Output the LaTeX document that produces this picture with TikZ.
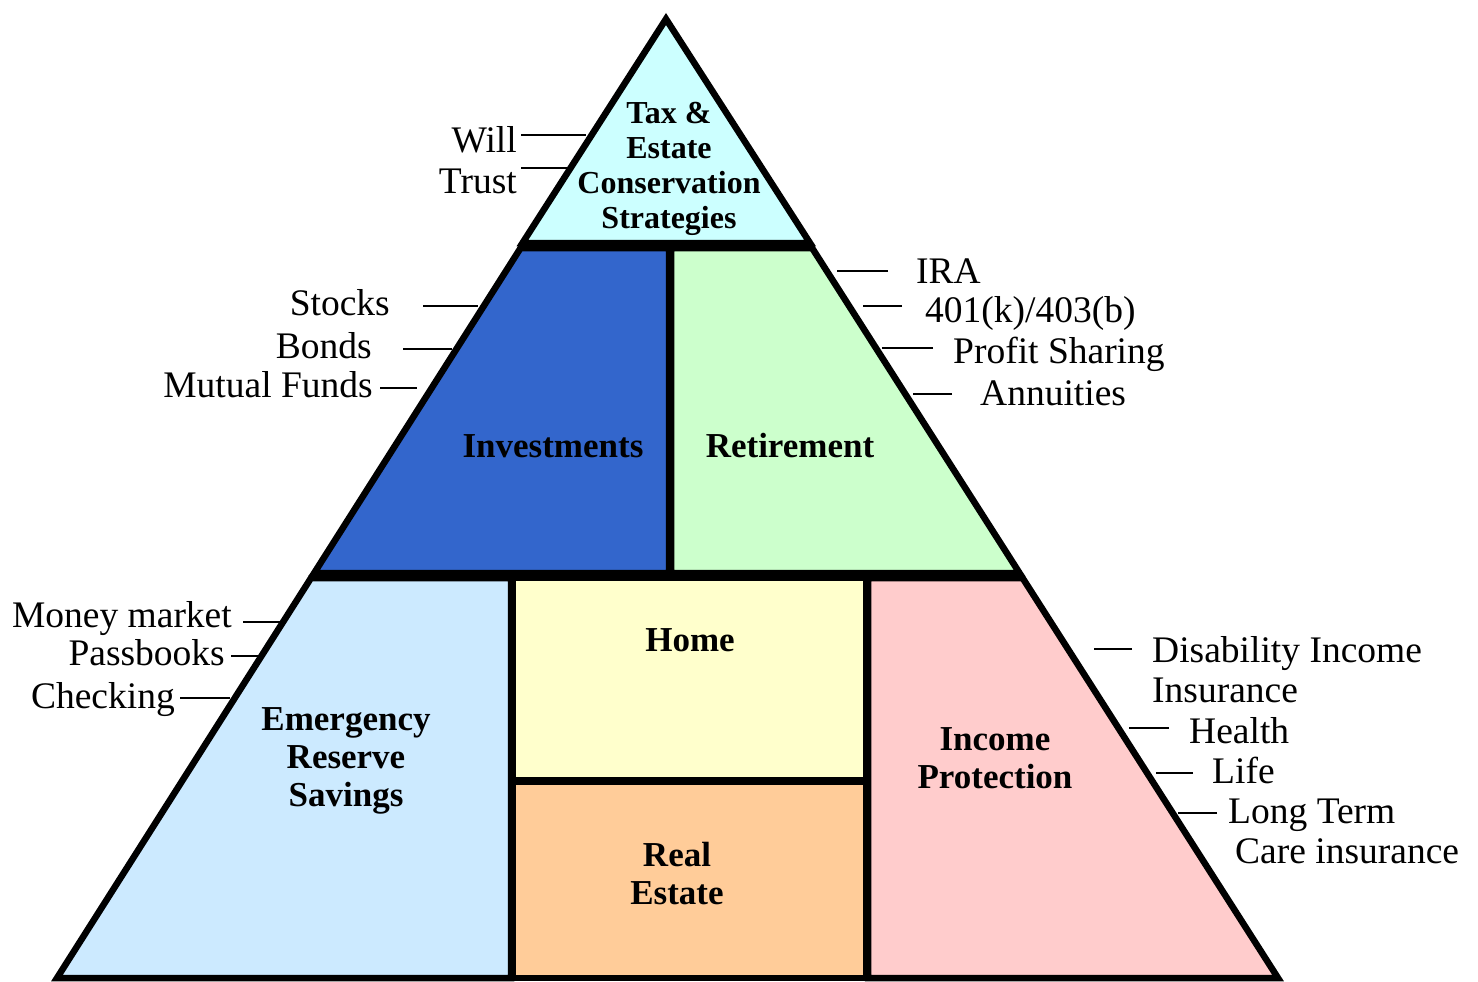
\documentclass[tikz,border=0pt]{standalone}
\usepackage{fontspec}
\setmainfont{Liberation Serif}
\usepackage{tikz}
\usetikzlibrary{positioning}
\definecolor{taxcyan}{HTML}{CCFFFF}
\definecolor{investblue}{HTML}{3366CC}
\definecolor{retiregreen}{HTML}{CCFFCC}
\definecolor{reserveblue}{HTML}{CCEAFF}
\definecolor{homeyellow}{HTML}{FFFFCC}
\definecolor{estateorange}{HTML}{FFCC99}
\definecolor{incomepink}{HTML}{FFCCCC}
\tikzstyle{region} = [draw=black, line width=6.5pt, line join=miter]
\tikzstyle{title} = [inner sep=0pt, align=center, font=\bfseries\fontsize{35}{38}\selectfont]
\tikzstyle{itemtext} = [inner sep=0pt, font=\fontsize{37.5}{40}\selectfont]
\tikzstyle{leader} = [line width=1.8pt]

\begin{document}
\begin{tikzpicture}[x=1pt, y=-1pt]
        \useasboundingbox (0,0) rectangle (1478,982);

        \coordinate (apex) at (666,19);
        \coordinate (bl) at (57,978);
        \coordinate (br) at (1278,978);

        % pyramid tiers
        \filldraw [region, fill=taxcyan] (apex) -- (810,243) -- (522.5,243) -- cycle;
        \filldraw [region, fill=investblue] (520.6,248) -- (669,248) -- (669,573) -- (314.2,573) -- cycle;
        \filldraw [region, fill=retiregreen] (671,248) -- (812.1,248) -- (1019.5,573) -- (671,573) -- cycle;
        \filldraw [region, fill=reserveblue] (311,578) -- (511,578) -- (511,978) -- (bl) -- cycle;
        \filldraw [region, fill=homeyellow] (513,578) rectangle (866,780);
        \filldraw [region, fill=estateorange] (513,782) rectangle (866,978);
        \filldraw [region, fill=incomepink] (868,578) -- (1022.6,578) -- (br) -- (868,978) -- cycle;

        \node (tax) [title, font=\bfseries\fontsize{32}{35}\selectfont] at (669,169) {Tax \&\\Estate\\Conservation\\Strategies};
        \node (invest) [title] at (553,446) {Investments};
        \node (retire) [title] at (790,446) {Retirement};
        \node (reserve) [title] at (346,761) {Emergency\\Reserve\\Savings};
        \node (home) [title] at (690,640) {Home};
        \node (estate) [title] at (677,874) {Real\\Estate};
        \node (income) [title] at (995,758) {Income\\Protection};

        % left side items
        \node (will) [itemtext, anchor=base east] at (517,152) {Will};
        \node (trust) [itemtext, anchor=base east] at (517,193) {Trust};
        \node (stocks) [itemtext, anchor=base east] at (390,315) {Stocks};
        \node (bonds) [itemtext, anchor=base east] at (372,358) {Bonds};
        \node (funds) [itemtext, anchor=base east] at (373,397) {Mutual Funds};
        \node (money) [itemtext, anchor=base east] at (232,627) {Money market};
        \node (pass) [itemtext, anchor=base east] at (225,665) {Passbooks};
        \node (check) [itemtext, anchor=base east] at (175,708) {Checking};

        % right side items (two-line texts sit on their last baseline)
        \node (ira) [itemtext, anchor=base west] at (916,283) {IRA};
        \node (plan) [itemtext, anchor=base west] at (925,322) {401(k)/403(b)};
        \node (profit) [itemtext, anchor=base west] at (953,363) {Profit Sharing};
        \node (annu) [itemtext, anchor=base west] at (980,405) {Annuities};
        \node (dis) [itemtext, anchor=base west, align=left] at (1152,702) {Disability Income\\Insurance};
        \node (health) [itemtext, anchor=base west] at (1189,743) {Health};
        \node (life) [itemtext, anchor=base west] at (1212,783) {Life};
        \node (care) [itemtext, anchor=base west, align=left] at (1228,863) {Long Term\\\hspace*{7pt}Care insurance};

        \coordinate (will-e) at (586,135);
        \coordinate (trust-e) at (567,168);
        \coordinate (stocks-e) at (478,306);
        \coordinate (bonds-e) at (452,349);
        \coordinate (funds-e) at (417,388);
        \coordinate (money-e) at (280,622);
        \coordinate (pass-e) at (258,656);
        \coordinate (check-e) at (230,698);
        \coordinate (ira-e) at (837,271);
        \coordinate (plan-e) at (863,306);
        \coordinate (profit-e) at (882,348);
        \coordinate (annu-e) at (913,394);
        \coordinate (dis-e) at (1094,649);
        \coordinate (health-e) at (1129,728);
        \coordinate (life-e) at (1156,773);
        \coordinate (care-e) at (1178,813);

        \draw [leader] ([xshift=4pt]will.east |- will-e) -- (will-e);
        \draw [leader] ([xshift=4pt]trust.east |- trust-e) -- (trust-e);
        \draw [leader] ([xshift=33pt]stocks.east |- stocks-e) -- (stocks-e);
        \draw [leader] ([xshift=31pt]bonds.east |- bonds-e) -- (bonds-e);
        \draw [leader] ([xshift=7pt]funds.east |- funds-e) -- (funds-e);
        \draw [leader] ([xshift=11pt]money.east |- money-e) -- (money-e);
        \draw [leader] ([xshift=6pt]pass.east |- pass-e) -- (pass-e);
        \draw [leader] ([xshift=5pt]check.east |- check-e) -- (check-e);
        \draw [leader] ([xshift=-28pt]ira.west |- ira-e) -- (ira-e);
        \draw [leader] ([xshift=-23pt]plan.west |- plan-e) -- (plan-e);
        \draw [leader] ([xshift=-20pt]profit.west |- profit-e) -- (profit-e);
        \draw [leader] ([xshift=-28pt]annu.west |- annu-e) -- (annu-e);
        \draw [leader] ([xshift=-20pt]dis.west |- dis-e) -- (dis-e);
        \draw [leader] ([xshift=-20pt]health.west |- health-e) -- (health-e);
        \draw [leader] ([xshift=-19pt]life.west |- life-e) -- (life-e);
        \draw [leader] ([xshift=-11pt]care.west |- care-e) -- (care-e);

    \end{tikzpicture}
\end{document}
